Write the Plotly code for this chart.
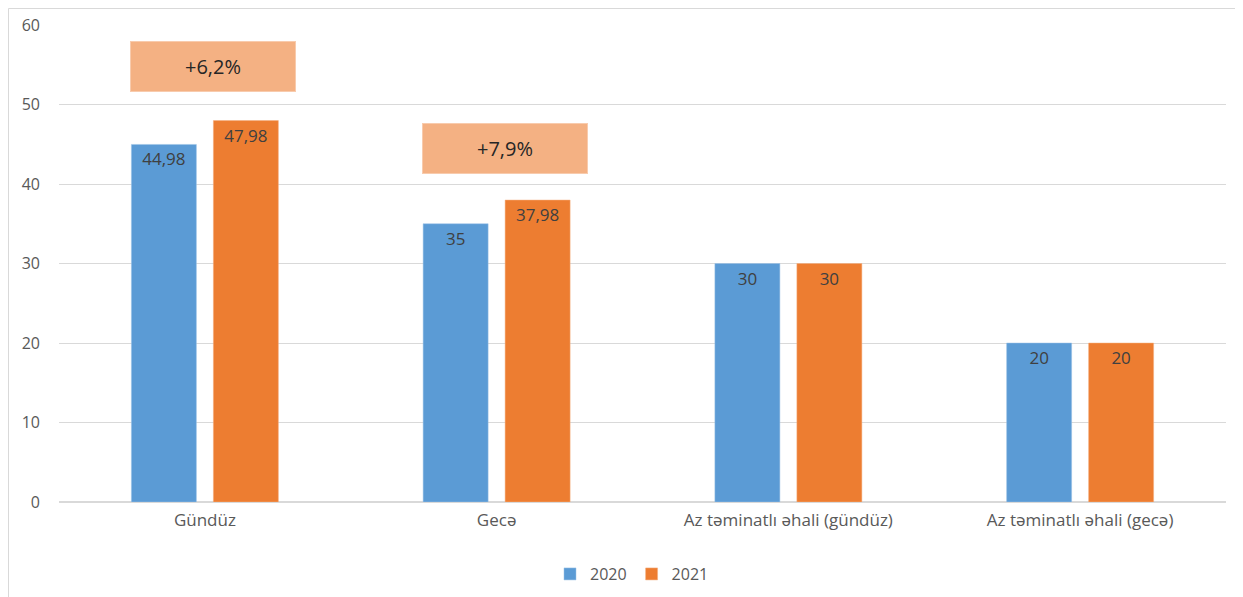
import plotly.graph_objects as go

categories = ["Gündüz", "Gecə", "Az təminatlı əhali (gündüz)", "Az təminatlı əhali (gecə)"]
values_2020 = [44.98, 35, 30, 20]
values_2021 = [47.98, 37.98, 30, 20]
change_labels = ["+6,2%", "+7,9%"]
change_positions = [54.8, 44.5]

def fmt(v):
    s = f"{v:g}"
    return s.replace(".", ",")

FONT = "Open Sans"

fig = go.Figure()
fig.add_trace(go.Bar(
    name="2020", x=categories, y=values_2020,
    text=[fmt(v) for v in values_2020], textposition="inside", insidetextanchor="end",
    marker=dict(color="#5B9BD5", line=dict(color="#9DC3E6", width=0.5)),
    textfont=dict(color="#404040", size=17, family=FONT),
))
fig.add_trace(go.Bar(
    name="2021", x=categories, y=values_2021,
    text=[fmt(v) for v in values_2021], textposition="inside", insidetextanchor="end",
    marker=dict(color="#ED7D31", line=dict(color="#F4B183", width=0.5)),
    textfont=dict(color="#404040", size=17, family=FONT),
))

for cat, lab, yv in zip(categories, change_labels, change_positions):
    fig.add_annotation(
        x=cat, y=yv, text=lab, showarrow=False, xshift=8,
        width=162, height=47, bgcolor="#F4B183", bordercolor="#F8CBAD", borderwidth=1,
        font=dict(size=20, color="#262626", family=FONT),
    )

# page body has an 8px margin; compensate
OFF = 8
L, R, T, B = 59 - OFF, 17, 25 - OFF, 95
W, H = 1243 - OFF, 597 - OFF
pw, ph = W - L - R, H - T - B
fig.add_shape(type="rect", xref="paper", yref="paper",
              x0=(0.5 - L) / pw, x1=(W + 20 - L) / pw,
              y0=-(H + 20 - T - ph) / ph, y1=1 + (T - 0.5) / ph,
              line=dict(color="#D9D9D9", width=1), fillcolor="rgba(0,0,0,0)", layer="below")

fig.update_layout(
    width=W, height=H,
    margin=dict(l=L, r=R, t=T, b=B, autoexpand=False),
    paper_bgcolor="white", plot_bgcolor="white",
    barmode="group", bargap=0.438, bargroupgap=0.207,
    font=dict(family=FONT, size=15, color="#595959"),
    showlegend=True,
    legend=dict(orientation="h", x=0.491, xanchor="center", y=-0.151, yanchor="middle",
                font=dict(size=16, color="#595959"), itemwidth=30),
    xaxis=dict(showgrid=False, showline=False, ticks="", tickfont=dict(size=17, color="#595959")),
    yaxis=dict(range=[0, 60], dtick=10, showgrid=True, gridcolor="#D9D9D9", gridwidth=1,
               zeroline=True, zerolinecolor="#D9D9D9", showline=False, ticks="",
               ticklen=0, tickfont=dict(size=16, color="#595959")),
)
fig.update_yaxes(ticklabelstandoff=18)
fig.update_xaxes(ticklabelstandoff=6)

fig.write_html("out.html")
